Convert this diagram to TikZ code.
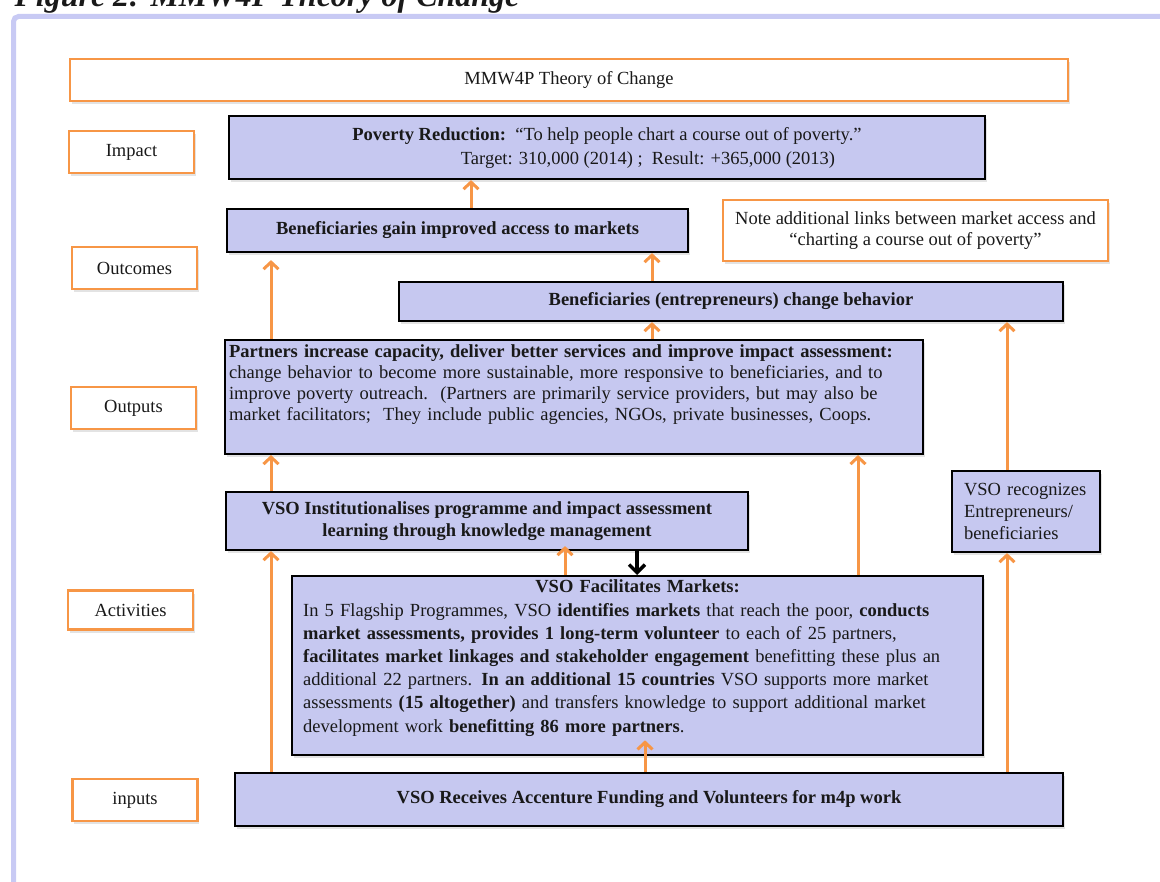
\documentclass[tikz,border=0pt]{standalone}
\usepackage{fontspec}
\setmainfont{Liberation Serif}
\usepackage{xcolor}
\usetikzlibrary{arrows.meta,shadows}

\definecolor{boxlilac}{RGB}{198,200,240}
\definecolor{lineorange}{RGB}{247,150,70}
\definecolor{framelilac}{RGB}{200,202,244}

\begin{document}
\begin{tikzpicture}[x=1pt,y=-1pt,
		every node/.style={font=\fontsize{18.5}{21}\selectfont,text=black!90},
		boxshadow/.style={drop shadow={shadow xshift=1.5pt,shadow yshift=-3pt,opacity=0.22}},
		levelbox/.style={draw=lineorange,line width=2.5pt,fill=white,minimum width=125pt,minimum height=42pt,inner sep=0pt,boxshadow},
		stagebox/.style={draw=black,line width=2.2pt,fill=boxlilac,inner sep=0pt,boxshadow},
		linkarrow/.style={draw=lineorange,line width=3pt,-{Straight Barb[length=7pt,width=15pt]}},
		]
				\useasboundingbox (0,0) rectangle (1160,882);
				\draw[framelilac,line width=5pt,rounded corners=5pt] (13.5,882) -- (13.5,16.5) -- (1160,16.5);
				\node[anchor=base west,font=\fontsize{32}{34}\selectfont\bfseries\itshape] (figtitle) at (11,7) {Figure 2: MMW4P Theory of Change};

				\node[levelbox,minimum width=998pt] (toc) at (569,80) {MMW4P Theory of Change};

				\node[levelbox] (impact) at (131.5,152) {Impact};
				\node[levelbox] (outcomes) at (134.5,268) {Outcomes};
				\node[levelbox] (outputs) at (133.5,408) {Outputs};
				\node[levelbox,minimum height=39pt] (activities) at (130.5,610) {Activities};
				\node[levelbox] (inputs) at (135,800) {inputs};

				\node[stagebox,minimum width=756pt,minimum height=63pt,align=center,font=\fontsize{18.5}{24}\selectfont] (poverty) at (607,147.5) {\textbf{Poverty Reduction:}\ \ “To help people chart a course out of poverty.”\\\hspace*{82pt}Target: 310,000 (2014) ;\ \ Result: +365,000 (2013)};
				\node[stagebox,minimum width=461pt,minimum height=43pt] (gain) at (457.5,230.5) {\textbf{Beneficiaries gain improved access to markets}};
				\node[levelbox,minimum width=385pt,minimum height=61pt,align=center] (note) at (915.5,230.5) {Note additional links between market access and\\“charting a course out of poverty”};
				\node[stagebox,minimum width=664pt,minimum height=39pt] (change) at (731,301.5) {\textbf{Beneficiaries (entrepreneurs) change behavior}};
				\node[stagebox,anchor=north west,text width=690pt,align=left,inner xsep=4pt,inner ysep=5pt] (partners) at (224,339) {\textbf{Partners increase capacity, deliver better services and improve impact assessment:}\\change behavior to become more sustainable, more responsive to beneficiaries, and to\\improve poverty outreach.\ \ (Partners are primarily service providers, but may also be\\market facilitators;\ \ They include public agencies, NGOs, private businesses, Coops.\par\vspace*{24pt}};
				\node[stagebox,minimum width=522pt,minimum height=58pt,align=center,font=\fontsize{18.5}{22}\selectfont\bfseries] (inst) at (487,521) {VSO Institutionalises programme and impact assessment\\learning through knowledge management};
				\node[stagebox,minimum width=148pt,minimum height=81pt,text width=124pt,align=left,font=\fontsize{18.5}{22}\selectfont] (recog) at (1026,511.5) {VSO recognizes\\Entrepreneurs/\\beneficiaries};
				\node[stagebox,anchor=north west,text width=669pt,align=left,inner xsep=11pt,inner ysep=4pt,font=\fontsize{18.5}{23.2}\selectfont] (facil) at (291,575) {\makebox[\linewidth]{\textbf{VSO Facilitates Markets:}}\\In 5 Flagship Programmes, VSO \textbf{identifies markets} that reach the poor, \textbf{conducts}\\\textbf{market assessments, provides 1 long-term volunteer} to each of 25 partners,\\\textbf{facilitates market linkages and stakeholder engagement} benefitting these plus an\\additional 22 partners. \textbf{In an additional 15 countries} VSO supports more market\\assessments \textbf{(15 altogether)} and transfers knowledge to support additional market\\development work \textbf{benefitting 86 more partners}.\par\vspace*{15pt}};
				\node[stagebox,minimum width=828pt,minimum height=53pt] (fund) at (649,799.5) {\textbf{VSO Receives Accenture Funding and Volunteers for m4p work}};

				\coordinate (colA) at (271,0);
				\coordinate (colB) at (471,0);
				\coordinate (colC) at (565,0);
				\coordinate (colD) at (637,0);
				\coordinate (colE) at (645,0);
				\coordinate (colF) at (652,0);
				\coordinate (colG) at (858,0);
				\coordinate (colH) at (1007,0);

				\draw[linkarrow] (gain.north -| colB) -- (poverty.south -| colB);
				\draw[linkarrow] (change.north -| colF) -- (gain.south -| colF);
				\draw[linkarrow,shorten >=7pt] (partners.north -| colA) -- (gain.south -| colA);
				\draw[linkarrow] (partners.north -| colF) -- (change.south -| colF);
				\draw[linkarrow] (inst.north -| colA) -- (partners.south -| colA);
				\draw[linkarrow] (fund.north -| colA) -- (inst.south -| colA);
				\draw[linkarrow,shorten >=-5pt] (facil.north -| colC) -- (inst.south -| colC);
				\draw[line width=3.5pt,-{Straight Barb[length=8pt,width=16pt]}] (inst.south -| colD) -- (facil.north -| colD);
				\draw[linkarrow] (facil.north -| colG) -- (partners.south -| colG);
				\draw[linkarrow,shorten >=-16pt] (fund.north -| colE) -- (facil.south -| colE);
				\draw[linkarrow] (fund.north -| colH) -- (recog.south -| colH);
				\draw[linkarrow] (recog.north -| colH) -- (change.south -| colH);
			\end{tikzpicture}
\end{document}
